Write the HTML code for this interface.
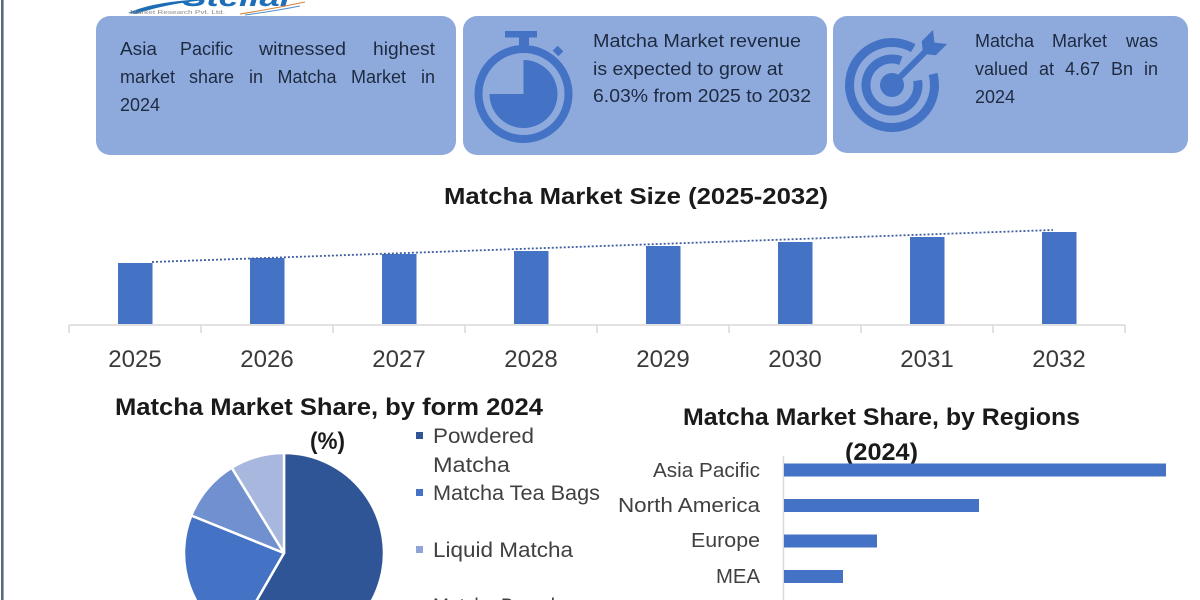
<!DOCTYPE html>
<html>
<head>
<meta charset="utf-8">
<style>
  html,body{margin:0;padding:0;background:#ffffff;}
  body{width:1200px;height:600px;overflow:hidden;position:relative;}
  svg{position:absolute;left:0;top:0;}
  text{font-family:"Liberation Sans", Arial, sans-serif;}
</style>
</head>
<body>
<svg width="1200" height="600" viewBox="0 0 1200 600" xmlns="http://www.w3.org/2000/svg">
  <rect x="0" y="0" width="1200" height="600" fill="#ffffff"/>
  <!-- left border -->
  <rect x="1" y="0" width="2.6" height="600" fill="#5b6b7c"/>

  <!-- logo remnants -->
  <path d="M128,13 Q150,3 190,0 L205,0 Q165,4 136,14 Z" fill="#1d6db5"/>
  <text x="182" y="6" font-size="26" font-weight="bold" font-style="italic" fill="#1e6fb8" textLength="112" lengthAdjust="spacingAndGlyphs">Stellar</text>
  <text x="130" y="14" font-size="5" fill="#8a8a8a" textLength="95" lengthAdjust="spacingAndGlyphs">Market Research Pvt. Ltd.</text>
  <path d="M240,14 Q272,9 305,2" stroke="#d9823a" stroke-width="1" fill="none"/>
  <path d="M245,15 Q275,11 300,6" stroke="#4a8fd0" stroke-width="1" fill="none"/>

  <!-- info boxes -->
  <rect x="96" y="16" width="360" height="139" rx="14" ry="14" fill="#8eaadc"/>
  <rect x="463" y="16" width="364" height="139" rx="14" ry="14" fill="#8eaadc"/>
  <rect x="833" y="16" width="355" height="137" rx="14" ry="14" fill="#8eaadc"/>

  <!-- box 1 text -->
  <g font-size="18" fill="#1e2a40">
    <text x="120" y="55" textLength="37" lengthAdjust="spacingAndGlyphs">Asia</text>
    <text x="180" y="55" textLength="53" lengthAdjust="spacingAndGlyphs">Pacific</text>
    <text x="259" y="55" textLength="87" lengthAdjust="spacingAndGlyphs">witnessed</text>
    <text x="373" y="55" textLength="62" lengthAdjust="spacingAndGlyphs">highest</text>

    <text x="120" y="83">market</text>
    <text x="189" y="83">share</text>
    <text x="249" y="83">in</text>
    <text x="277.5" y="83">Matcha</text>
    <text x="351" y="83">Market</text>
    <text x="435" y="83" text-anchor="end">in</text>

    <text x="120" y="111" textLength="40" lengthAdjust="spacingAndGlyphs">2024</text>
  </g>

  <!-- stopwatch icon -->
  <g fill="#4472c4">
    <circle cx="523.5" cy="94" r="45" fill="none" stroke="#4472c4" stroke-width="8"/>
    <path d="M523.5,94 L523.5,60 A34,34 0 1 1 489.5,94 Z"/>
    <rect x="505" y="31" width="32" height="6.5"/>
    <rect x="519" y="36" width="10" height="10"/>
    <rect x="554" y="47.5" width="8" height="7" transform="rotate(45 558 51)"/>
  </g>

  <!-- box 2 text -->
  <g font-size="18" fill="#1e2a40">
    <text x="593" y="47" textLength="208" lengthAdjust="spacingAndGlyphs">Matcha Market revenue</text>
    <text x="593" y="75" textLength="190" lengthAdjust="spacingAndGlyphs">is expected to grow at</text>
    <text x="593" y="102" textLength="218" lengthAdjust="spacingAndGlyphs">6.03% from 2025 to 2032</text>
  </g>

  <!-- target icon -->
  <g fill="#4472c4" stroke="#4472c4">
    <path d="M933.05,74 A42.5,42.5 0 1 1 913.25,48.2" fill="none" stroke-width="9"/>
    <path d="M917.6,80.5 A26,26 0 1 1 900.9,60.6" fill="none" stroke-width="9"/>
    <circle cx="892" cy="85" r="12" stroke="none"/>
    <line x1="892" y1="85" x2="929" y2="48" stroke-width="6"/>
    <polygon points="923.1,53.9 921.7,41.2 933,29.9 934.4,42.6 947.2,44 935.8,55.3" stroke="none"/>
  </g>

  <!-- box 3 text -->
  <g font-size="18" fill="#1e2a40">
    <text x="975" y="47">Matcha</text>
    <text x="1052" y="47">Market</text>
    <text x="1158" y="47" text-anchor="end">was</text>

    <text x="975" y="75">valued</text>
    <text x="1039" y="75">at</text>
    <text x="1065" y="75">4.67</text>
    <text x="1111" y="75">Bn</text>
    <text x="1158" y="75" text-anchor="end">in</text>

    <text x="975" y="103" textLength="40" lengthAdjust="spacingAndGlyphs">2024</text>
  </g>

  <!-- Market size chart -->
  <text x="444" y="204" font-size="23" font-weight="bold" fill="#1a1a1a" textLength="384" lengthAdjust="spacingAndGlyphs">Matcha Market Size (2025-2032)</text>

  <g fill="#4472c4">
    <rect x="118" y="263" width="34.5" height="61"/>
    <rect x="250" y="258" width="34.5" height="66"/>
    <rect x="382" y="254" width="34.5" height="70"/>
    <rect x="514" y="251" width="34.5" height="73"/>
    <rect x="646" y="246" width="34.5" height="78"/>
    <rect x="778" y="242" width="34.5" height="82"/>
    <rect x="910" y="237" width="34.5" height="87"/>
    <rect x="1042" y="232" width="34.5" height="92"/>
  </g>
  <line x1="152" y1="262" x2="1053" y2="230" stroke="#3f5f9f" stroke-width="1.8" stroke-dasharray="2,2"/>

  <g stroke="#d9d9d9" stroke-width="1.5">
    <line x1="69" y1="325" x2="1125" y2="325"/>
    <line x1="69" y1="325" x2="69" y2="333"/>
    <line x1="201" y1="325" x2="201" y2="333"/>
    <line x1="333" y1="325" x2="333" y2="333"/>
    <line x1="465" y1="325" x2="465" y2="333"/>
    <line x1="597" y1="325" x2="597" y2="333"/>
    <line x1="729" y1="325" x2="729" y2="333"/>
    <line x1="861" y1="325" x2="861" y2="333"/>
    <line x1="993" y1="325" x2="993" y2="333"/>
    <line x1="1125" y1="325" x2="1125" y2="333"/>
  </g>
  <g font-size="24" fill="#3a3a3a" text-anchor="middle">
    <text x="135" y="367">2025</text>
    <text x="267" y="367">2026</text>
    <text x="399" y="367">2027</text>
    <text x="531" y="367">2028</text>
    <text x="663" y="367">2029</text>
    <text x="795" y="367">2030</text>
    <text x="927" y="367">2031</text>
    <text x="1059" y="367">2032</text>
  </g>

  <!-- Pie chart -->
  <text x="115" y="415" font-size="24" font-weight="bold" fill="#1a1a1a" textLength="428" lengthAdjust="spacingAndGlyphs">Matcha Market Share, by form 2024</text>
  <text x="310" y="449" font-size="24" font-weight="bold" fill="#1a1a1a" textLength="35" lengthAdjust="spacingAndGlyphs">(%)</text>

  <g stroke="#ffffff" stroke-width="2.5" stroke-linejoin="round">
    <path d="M284,553 L284,453 A100,100 0 1 1 234,639.6 Z" fill="#2f5597"/>
    <path d="M284,553 L234,639.6 A100,100 0 0 1 191.3,515.5 Z" fill="#4472c4"/>
    <path d="M284,553 L191.3,515.5 A100,100 0 0 1 231.75,467.7 Z" fill="#7190cf"/>
    <path d="M284,553 L231.75,467.7 A100,100 0 0 1 284,453 Z" fill="#a8b7de"/>
  </g>

  <!-- legend -->
  <rect x="416" y="432" width="7" height="7" fill="#2f5597"/>
  <rect x="416" y="489" width="7" height="7" fill="#4472c4"/>
  <rect x="416" y="546" width="7" height="7" fill="#8fa3d6"/>
  <g font-size="21" fill="#404040">
    <text x="433" y="443" textLength="101" lengthAdjust="spacingAndGlyphs">Powdered</text>
    <text x="433" y="472" textLength="77" lengthAdjust="spacingAndGlyphs">Matcha</text>
    <text x="433" y="500" textLength="167" lengthAdjust="spacingAndGlyphs">Matcha Tea Bags</text>
    <text x="433" y="557" textLength="140" lengthAdjust="spacingAndGlyphs">Liquid Matcha</text>
    <text x="433" y="613" textLength="122" lengthAdjust="spacingAndGlyphs">Matcha Based</text>
  </g>

  <!-- Regions bar chart -->
  <text x="683" y="425" font-size="24" font-weight="bold" fill="#1a1a1a" textLength="397" lengthAdjust="spacingAndGlyphs">Matcha Market Share, by Regions</text>
  <text x="845" y="460" font-size="24" font-weight="bold" fill="#1a1a1a" textLength="73" lengthAdjust="spacingAndGlyphs">(2024)</text>

  <line x1="783.5" y1="456" x2="783.5" y2="600" stroke="#d9d9d9" stroke-width="1.5"/>
  <g fill="#4472c4">
    <rect x="784" y="463.5" width="382" height="13"/>
    <rect x="784" y="499" width="195" height="13"/>
    <rect x="784" y="534.5" width="93" height="13"/>
    <rect x="784" y="570" width="59" height="13"/>
  </g>
  <g font-size="20" fill="#404040" text-anchor="end">
    <text x="760" y="477" textLength="107" lengthAdjust="spacingAndGlyphs">Asia Pacific</text>
    <text x="760" y="512" textLength="142" lengthAdjust="spacingAndGlyphs">North America</text>
    <text x="760" y="547" textLength="69" lengthAdjust="spacingAndGlyphs">Europe</text>
    <text x="760" y="583" textLength="44" lengthAdjust="spacingAndGlyphs">MEA</text>
  </g>
</svg>
</body>
</html>
